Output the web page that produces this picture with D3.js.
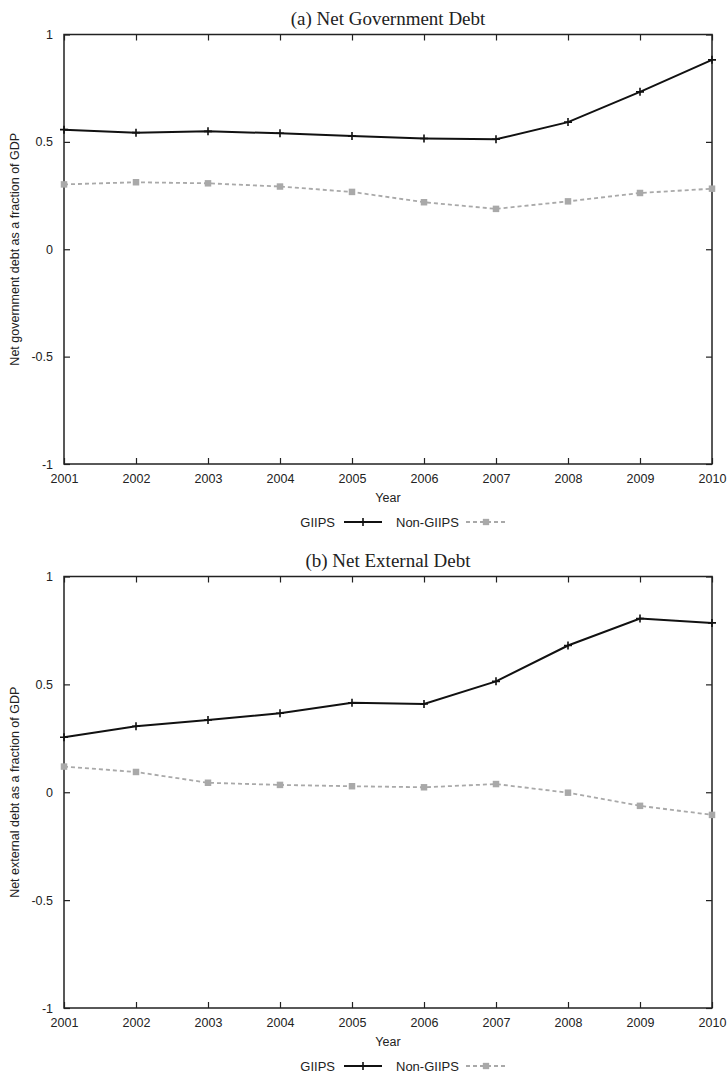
<!DOCTYPE html>
<html>
<head>
<meta charset="utf-8">
<script src="https://cdn.jsdelivr.net/npm/d3@7"></script>
<style>
  body { margin: 0; background: #fff; }
  svg text { font-family: "Liberation Sans", Arial, sans-serif; fill: #222; }
  .title { font-family: "Liberation Serif", "Times New Roman", serif; }
</style>
</head>
<body>
<div id="chart"></div>
<script>
// years on the x axis
const years = [2001, 2002, 2003, 2004, 2005, 2006, 2007, 2008, 2009, 2010];
const yTicks = [-1, -0.5, 0, 0.5, 1];
const seriesNames = ["GIIPS", "Non-GIIPS"];

// (a) net government debt / GDP
const govGIIPS    = [0.557, 0.543, 0.549, 0.540, 0.527, 0.516, 0.512, 0.592, 0.733, 0.882];
const govNonGIIPS = [0.302, 0.312, 0.307, 0.292, 0.267, 0.219, 0.188, 0.223, 0.262, 0.282];

// (b) net external debt / GDP
const extGIIPS    = [0.255, 0.306, 0.335, 0.366, 0.415, 0.409, 0.514, 0.680, 0.805, 0.785];
const extNonGIIPS = [0.119, 0.094, 0.044, 0.034, 0.028, 0.023, 0.038, -0.002, -0.063, -0.105];

const W = 727, H = 1074;
const svg = d3.select("#chart").append("svg")
    .attr("width", W)
    .attr("height", H);

const left = 64, right = 712;
const x = d3.scaleLinear().domain([2001, 2010]).range([left, right]);

function drawPanel(p) {
    const y = d3.scaleLinear().domain([-1, 1]).range([p.bottom, p.top]);
    const g = svg.append("g");

    // axes, ticks inward on every side
    const fmt = d => d === 0 ? "0" : String(d);
    g.append("g")
        .attr("transform", `translate(${left},0)`)
        .call(d3.axisLeft(y).tickValues(yTicks).tickSize(-6).tickPadding(11).tickFormat(fmt))
        .call(a => a.select(".domain").remove())
        .call(a => a.selectAll("text").style("font-size", "12.5px").attr("fill", "#222"));
    g.append("g")
        .attr("transform", `translate(${right},0)`)
        .call(d3.axisRight(y).tickValues(yTicks).tickSize(-6).tickFormat(""))
        .call(a => a.select(".domain").remove());
    g.append("g")
        .attr("transform", `translate(0,${p.bottom})`)
        .call(d3.axisBottom(x).tickValues(years).tickSize(-6).tickPadding(10).tickFormat(d3.format("d")))
        .call(a => a.select(".domain").remove())
        .call(a => a.selectAll("text").style("font-size", "12.5px").attr("fill", "#222"));
    g.append("g")
        .attr("transform", `translate(0,${p.top})`)
        .call(d3.axisTop(x).tickValues(years).tickSize(-6).tickFormat(""))
        .call(a => a.select(".domain").remove());
    g.selectAll(".tick line").attr("stroke", "#222").attr("stroke-width", 1.2);

    g.append("rect")
        .attr("x", left).attr("y", p.top)
        .attr("width", right - left).attr("height", p.bottom - p.top)
        .attr("fill", "none").attr("stroke", "#222").attr("stroke-width", 1.5);

    // titles and labels
    g.append("text").attr("class", "title")
        .attr("x", (left + right) / 2).attr("y", p.top - 10)
        .attr("text-anchor", "middle")
        .style("font-size", "19px")
        .text(p.title);
    g.append("text")
        .attr("transform", `translate(19,${(p.top + p.bottom) / 2}) rotate(-90)`)
        .attr("text-anchor", "middle")
        .style("font-size", "12.5px")
        .text(p.ylabel);
    g.append("text")
        .attr("x", (left + right) / 2).attr("y", p.bottom + 38)
        .attr("text-anchor", "middle")
        .style("font-size", "12.5px")
        .text("Year");

    const line = d3.line().x((d, i) => x(years[i])).y(d => y(d));

    // Non-GIIPS: grey dashed with square markers
    g.append("path").datum(p.non)
        .attr("d", line)
        .attr("fill", "none").attr("stroke", "#a9a9a9")
        .attr("stroke-width", 1.8).attr("stroke-dasharray", "4,3");
    g.selectAll(".sq").data(p.non).enter().append("path")
        .attr("transform", (d, i) => `translate(${x(years[i])},${y(d)})`)
        .attr("d", d3.symbol(d3.symbolSquare, 42))
        .attr("fill", "#a9a9a9");

    // GIIPS: black solid with plus markers
    g.append("path").datum(p.gii)
        .attr("d", line)
        .attr("fill", "none").attr("stroke", "#111").attr("stroke-width", 2);
    g.selectAll(".pl").data(p.gii).enter().append("path")
        .attr("transform", (d, i) => `translate(${x(years[i])},${y(d)})`)
        .attr("d", "M-4,0H4M0,-4V4")
        .attr("stroke", "#111").attr("stroke-width", 1.6);

    // legend
    const ly = p.bottom + 58;
    const lg = g.append("g").attr("transform", `translate(0,${ly})`);
    lg.append("text").attr("x", 335).attr("y", 4.5).attr("text-anchor", "end")
        .style("font-size", "13px").text(seriesNames[0]);
    lg.append("line").attr("x1", 344).attr("x2", 382)
        .attr("stroke", "#111").attr("stroke-width", 2);
    lg.append("path").attr("transform", "translate(363,0)")
        .attr("d", "M-4,0H4M0,-4V4").attr("stroke", "#111").attr("stroke-width", 1.6);
    lg.append("text").attr("x", 396).attr("y", 4.5)
        .style("font-size", "13px").text(seriesNames[1]);
    lg.append("line").attr("x1", 466).attr("x2", 507)
        .attr("stroke", "#a9a9a9").attr("stroke-width", 1.8).attr("stroke-dasharray", "4,3");
    lg.append("path").attr("transform", "translate(486,0)")
        .attr("d", d3.symbol(d3.symbolSquare, 40)).attr("fill", "#a9a9a9");
}

drawPanel({
    top: 34.5, bottom: 464,
    title: "(a) Net Government Debt",
    ylabel: "Net government debt as a fraction of GDP",
    gii: govGIIPS, non: govNonGIIPS
});

drawPanel({
    top: 576.5, bottom: 1008,
    title: "(b) Net External Debt",
    ylabel: "Net external debt as a fraction of GDP",
    gii: extGIIPS, non: extNonGIIPS
});
</script>
</body>
</html>
